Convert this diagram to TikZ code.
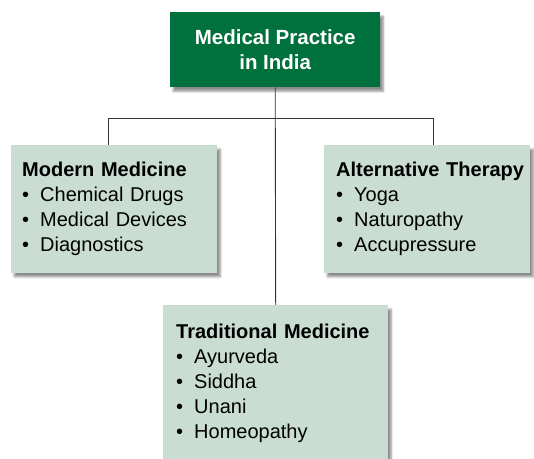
\documentclass[tikz,border=0pt]{standalone}
\usepackage{fontspec}
\setmainfont{Liberation Sans}
\usetikzlibrary{shadows.blur}
\definecolor{topgreen}{HTML}{00703C}
\definecolor{boxfill}{HTML}{CADDD3}
\definecolor{linegray}{HTML}{333333}
\newcommand{\bul}{•\hspace{0.55em}}
\newcommand{\ttl}[1]{\mbox{\textbf{#1}}}
\tikzset{
  shad/.style={blur shadow={shadow xshift=3pt, shadow yshift=-4pt, shadow blur steps=8, shadow opacity=45}},
  topbox/.style={shad, fill=topgreen, text=white, font=\fontsize{20.5}{25}\selectfont\bfseries, align=center, minimum width=210pt, minimum height=75pt, inner sep=0pt},
  catbox/.style={shad, fill=boxfill, text=black, font=\fontsize{20}{25}\selectfont, align=left, inner xsep=11pt, inner ysep=17pt, anchor=north west},
  conn/.style={draw=linegray, line width=0.9pt}
}
\begin{document}
\begin{tikzpicture}[x=1pt,y=-1pt]
\useasboundingbox (0,0) rectangle (534,458);
\node[topbox, anchor=north west] (top) at (170,12) {Medical Practice\\in India};
\node[catbox, minimum width=206pt, minimum height=126pt, text width=184pt] (mod) at (11,145)
  {\ttl{Modern Medicine}\\\bul Chemical Drugs\\\bul Medical Devices\\\bul Diagnostics};
\node[catbox, minimum width=206pt, minimum height=126pt, text width=182pt, inner xsep=12pt] (alt) at (324,145)
  {\ttl{Alternative Therapy}\\\bul Yoga\\\bul Naturopathy\\\bul Accupressure};
\node[catbox, minimum width=225pt, text width=199pt, inner xsep=13pt, inner ysep=19pt] (trad) at (163,305)
  {\ttl{Traditional Medicine}\\\bul Ayurveda\\\bul Siddha\\\bul Unani\\\bul Homeopathy};
\coordinate (jl) at (108,118);
\coordinate (jr) at (433,118);
\draw[conn] (top.south) -- (trad.north);
\draw[conn] (jl) -- (jr);
\draw[conn] (jl) -- (jl |- mod.north);
\draw[conn] (jr) -- (jr |- alt.north);
\end{tikzpicture}
\end{document}
